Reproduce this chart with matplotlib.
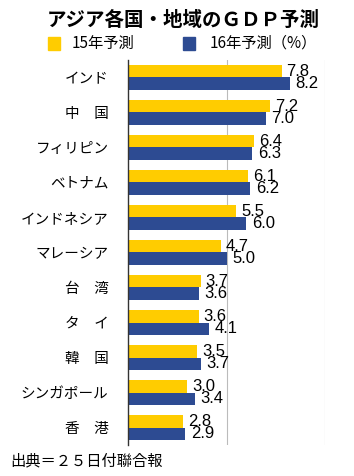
import matplotlib
matplotlib.use('Agg')
import numpy as np
import matplotlib.pyplot as plt
from matplotlib.patches import Rectangle

plt.rcParams['font.family'] = ['Noto Sans CJK JP', 'DejaVu Sans']

# data
regions = ['インド', '中　国', 'フィリピン', 'ベトナム', 'インドネシア', 'マレーシア',
           '台　湾', 'タ　イ', '韓　国', 'シンガポール', '香　港']
gdp15 = [7.8, 7.2, 6.4, 6.1, 5.5, 4.7, 3.7, 3.6, 3.5, 3.0, 2.8]
gdp16 = [8.2, 7.0, 6.3, 6.2, 6.0, 5.0, 3.6, 4.1, 3.7, 3.4, 2.9]

yellow = '#FFCC00'
blue = '#2D4B92'

fig = plt.figure(figsize=(3.54, 4.76), dpi=100)
ax = fig.add_axes([0.3616, 0.0651, 0.5565, 0.8089])

y = np.arange(len(regions))
h = 0.357
ax.barh(y - h / 2, gdp15, height=h, color=yellow, zorder=2)
ax.barh(y + h / 2, gdp16, height=h, color=blue, zorder=2)

# value labels (they touch each other in the original too)
num_font = ['Liberation Sans', 'DejaVu Sans']
for yi, v in zip(y, gdp15):
    ax.annotate('%.1f' % v, (v, yi - h / 2), xytext=(3.5, 0), textcoords='offset points',
                va='center', ha='left', fontsize=12, family=num_font, zorder=3)
for yi, v in zip(y, gdp16):
    ax.annotate('%.1f' % v, (v, yi + h / 2), xytext=(4, 0), textcoords='offset points',
                va='center', ha='left', fontsize=12, family=num_font, zorder=3)

ax.set_xlim(0, 10)
ax.set_ylim(len(regions) - 0.5, -0.5)
ax.set_yticks(y)
ax.set_yticklabels(regions, fontsize=10.5)
ax.tick_params(axis='y', length=0, pad=14)
ax.set_xticks([5, 10])
ax.tick_params(axis='x', length=0, labelbottom=False)
ax.grid(axis='x', color='#BBBBBB', linewidth=0.8, zorder=0)
for s in ['top', 'right', 'bottom']:
    ax.spines[s].set_visible(False)
ax.spines['left'].set_color('#333333')
ax.spines['left'].set_linewidth(1.0)
ax.spines['left'].set_zorder(3)

# title and legend
fig.text(0.517, 0.957, 'アジア各国・地域のＧＤＰ予測', ha='center', va='center',
         fontsize=14, fontweight='bold')
fig.add_artist(Rectangle((48 / 354, 1 - 50 / 476), 12 / 354, 13 / 476,
                         transform=fig.transFigure, color=yellow))
fig.text(72 / 354, 1 - 43.5 / 476, '15年予測', ha='left', va='center', fontsize=11)
fig.add_artist(Rectangle((183 / 354, 1 - 50 / 476), 12 / 354, 13 / 476,
                         transform=fig.transFigure, color=blue))
fig.text(210 / 354, 1 - 43.5 / 476, '16年予測（%）', ha='left', va='center', fontsize=11)

fig.text(10 / 354, 1 - 461 / 476, '出典＝２５日付聯合報', ha='left', va='center', fontsize=11)

plt.savefig('out.png', dpi=100)
